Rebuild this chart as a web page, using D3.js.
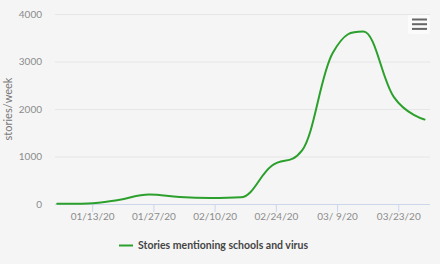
<!DOCTYPE html>
<html>
<head>
<meta charset="utf-8">
<script src="https://cdn.jsdelivr.net/npm/d3@7/dist/d3.min.js"></script>
<style>
  html, body { margin: 0; padding: 0; background: #f5f5f5; }
  svg { display: block; font-family: Lato, "Open Sans", sans-serif; }
</style>
</head>
<body>
<svg id="chart" width="440" height="264"></svg>
<script>
// ---- data ----
const weeks = ["2020-01-05","2020-01-12","2020-01-19","2020-01-26","2020-02-02","2020-02-09",
               "2020-02-16","2020-02-23","2020-03-01","2020-03-08","2020-03-15","2020-03-22","2020-03-29"];
const storiesPerWeek = [5, 12, 85, 200, 145, 125, 140, 800, 1130, 3180, 3630, 2250, 1780];
const seriesName = "Stories mentioning schools and virus";
const xTickDates = ["2020-01-13","2020-01-27","2020-02-10","2020-02-24","2020-03-09","2020-03-23"];
const xTickLabels = ["01/13/20","01/27/20","02/10/20","02/24/20","03/ 9/20","03/23/20"];
const yTicks = [0, 1000, 2000, 3000, 4000];
const yTitle = "stories/week";

// ---- layout ----
const plot = { left: 55, right: 430, top: 14, bottom: 204 };
const parse = d3.utcParse("%Y-%m-%d");
const parseT = d3.utcParse("%Y-%m-%dT%H:%M");
const green = "#2ca02c";

const x = d3.scaleUtc()
  .domain([parseT("2020-01-04T12:00"), parseT("2020-03-30T06:00")])
  .range([plot.left, plot.right]);
const y = d3.scaleLinear().domain([0, 4000]).range([plot.bottom, plot.top]);

const svg = d3.select("#chart");

// gridlines
svg.append("g").selectAll("line").data(yTicks.filter(d => d > 0)).join("line")
  .attr("x1", plot.left).attr("x2", plot.right)
  .attr("y1", d => y(d) + 0.5).attr("y2", d => y(d) + 0.5)
  .attr("stroke", "#e6e6e6").attr("stroke-width", 1);

// y labels
svg.append("g").selectAll("text").data(yTicks).join("text")
  .attr("x", 42).attr("y", d => y(d)).attr("dy", "0.35em")
  .attr("text-anchor", "end").attr("font-size", 10).attr("fill", "#8c8c8c")
  .text(d => d);

// y title
svg.append("text")
  .attr("transform", `translate(12,${(plot.top + plot.bottom) / 2}) rotate(-90)`)
  .attr("text-anchor", "middle").attr("font-size", 11).attr("fill", "#777")
  .text(yTitle);

// x axis
const xAxis = d3.axisBottom(x)
  .tickValues(xTickDates.map(parse))
  .tickFormat((d, i) => xTickLabels[i])
  .tickSize(8).tickSizeOuter(0).tickPadding(0.5);
const gx = svg.append("g").attr("transform", `translate(0,${plot.bottom})`).call(xAxis);
gx.select(".domain").attr("stroke", "#ccd6eb").attr("d", `M${plot.left},0.5H${plot.right}`);
gx.selectAll(".tick line").attr("stroke", "#ccd6eb");
gx.selectAll(".tick text").attr("font-size", 10).attr("fill", "#8c8c8c")
  .attr("font-family", "Lato, sans-serif").style("white-space", "pre");

// Highcharts-style spline
function splinePath(pts) {
  const sm = 1.5, den = sm + 1;
  let d = `M${pts[0][0]},${pts[0][1]}`;
  let prevRC = null;
  for (let i = 1; i < pts.length; i++) {
    const [px, py] = pts[i];
    const last = pts[i - 1], next = pts[i + 1];
    let lcx = px, lcy = py, rc = null;
    if (next) {
      let lx = (sm * px + last[0]) / den, ly = (sm * py + last[1]) / den;
      let rx = (sm * px + next[0]) / den, ry = (sm * py + next[1]) / den;
      if (rx !== lx) {
        const c = ((ry - ly) * (rx - px)) / (rx - lx) + py - ry;
        ly += c; ry += c;
      }
      if (ly > last[1] && ly > py) { ly = Math.max(last[1], py); ry = 2 * py - ly; }
      else if (ly < last[1] && ly < py) { ly = Math.min(last[1], py); ry = 2 * py - ly; }
      if (ry > next[1] && ry > py) { ry = Math.max(next[1], py); ly = 2 * py - ry; }
      else if (ry < next[1] && ry < py) { ry = Math.min(next[1], py); ly = 2 * py - ry; }
      lcx = lx; lcy = ly; rc = [rx, ry];
    }
    const c1 = prevRC || last;
    d += `C${c1[0]},${c1[1]} ${lcx},${lcy} ${px},${py}`;
    prevRC = rc;
  }
  return d;
}
const pts = weeks.map((w, i) => [x(parse(w)), y(storiesPerWeek[i])]);
svg.append("path").attr("d", splinePath(pts))
  .attr("fill", "none").attr("stroke", green).attr("stroke-width", 2)
  .attr("stroke-linecap", "round").attr("stroke-linejoin", "round");

// context button
const btn = svg.append("g");
btn.append("rect").attr("x", 408).attr("y", 15).attr("width", 22).attr("height", 19)
  .attr("rx", 2).attr("fill", "#fbfbfb");
btn.selectAll("line").data([0, 1, 2]).join("line")
  .attr("x1", 412).attr("x2", 427)
  .attr("y1", i => 19.5 + i * 4.7).attr("y2", i => 19.5 + i * 4.7)
  .attr("stroke", "#666").attr("stroke-width", 2);

// legend
const lg = svg.append("g").attr("transform", "translate(119,245.5)");
lg.append("line").attr("x1", 0).attr("x2", 14).attr("stroke", green).attr("stroke-width", 2);
lg.append("text").attr("x", 19).attr("dy", "0.35em").attr("font-size", 10.5)
  .attr("font-weight", "bold").attr("fill", "#444").text(seriesName);
</script>
</body>
</html>
